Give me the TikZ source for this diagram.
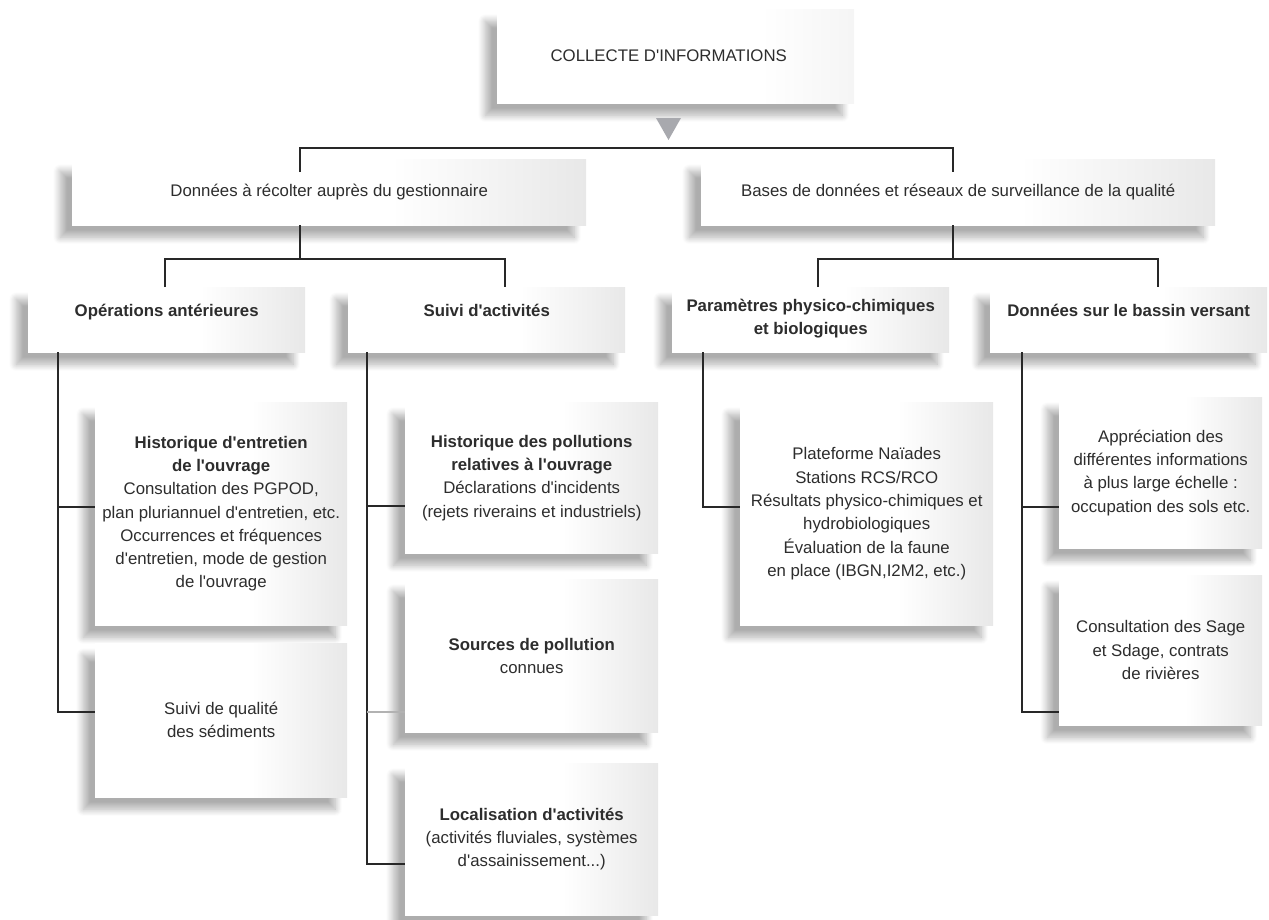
\documentclass[tikz,border=0pt]{standalone}
\usepackage{fontspec}
\setmainfont{Liberation Sans}[Ligatures=TeXOff]
\usetikzlibrary{shadows.blur}
\definecolor{txtgray}{RGB}{45,45,45}
\definecolor{linegray}{RGB}{40,40,40}
\definecolor{arrowgray}{RGB}{168,169,174}
\pgfdeclarehorizontalshading{boxshade}{100bp}{color(0bp)=(white); color(56bp)=(white); color(75bp)=(black!9); color(100bp)=(black!9)}
\pgfdeclarehorizontalshading{paleshade}{100bp}{color(0bp)=(white); color(62bp)=(white); color(75bp)=(black!4); color(100bp)=(black!4)}
\tikzset{
	box/.style={shade, shading=boxshade, anchor=north west, align=center, inner sep=0pt, text=txtgray,
		font=\fontsize{16.8pt}{23.3pt}\selectfont,
		blur shadow={shadow xshift=-12pt, shadow yshift=-12pt, shadow blur radius=7pt, shadow blur steps=10, shadow opacity=32}},
	headbox/.style={box, minimum width=277pt, minimum height=65pt, text height=12pt, text depth=18pt},
	link/.style={draw=linegray, line width=1.2pt},
	linkpale/.style={draw=black!30, line width=1.2pt}
}

\begin{document}
\begin{tikzpicture}[x=1pt, y=-1pt]
		%%%%% START %%%%%
		\useasboundingbox (0,0) rectangle (1269,919);
		
		\node[box, shading=paleshade, minimum width=357pt, minimum height=94pt] (collect) at (497,9) {COLLECTE D'INFORMATIONS\hspace*{14pt}};
		\fill[arrowgray] (656,118) -- (681,118) -- (668.5,140) -- cycle;
		
		\node[box, minimum width=514pt, minimum height=66pt] (gestion) at (72,159) {Données à récolter auprès du gestionnaire};
		\node[box, minimum width=514pt, minimum height=66pt] (bases) at (701,159) {Bases de données et réseaux de surveillance de la qualité};
		
		\node[headbox] (operations) at (28,287) {\textbf{Opérations antérieures}};
		\node[headbox] (suivi) at (348,287) {\textbf{Suivi d'activités}};
		\node[headbox, text height=34pt, text depth=4pt] (parametres) at (672,287) {\textbf{Paramètres physico-chimiques}\\\textbf{et biologiques}};
		\node[headbox] (bassin) at (990,287) {\textbf{Données sur le bassin versant}};
		
		\node[box, minimum width=252pt, minimum height=223pt] (histentretien) at (95,402) {\textbf{Historique d'entretien}\\\textbf{de l'ouvrage}\\Consultation des PGPOD,\\plan pluriannuel d'entretien, etc.\\Occurrences et fréquences\\d'entretien, mode de gestion\\de l'ouvrage};
		\node[box, minimum width=252pt, minimum height=154pt] (qualsed) at (95,643) {Suivi de qualité\\des sédiments};
		
		\node[box, minimum width=253pt, minimum height=151pt] (histpollu) at (405,402) {\textbf{Historique des pollutions}\\\textbf{relatives à l'ouvrage}\\Déclarations d'incidents\\(rejets riverains et industriels)};
		\node[box, minimum width=253pt, minimum height=153pt] (sources) at (405,579) {\textbf{Sources de pollution}\\connues};
		\node[box, minimum width=253pt, minimum height=152pt] (localis) at (405,763) {\textbf{Localisation d'activités}\\(activités fluviales, systèmes\\d'assainissement...)};
		
		\node[box, minimum width=253pt, minimum height=223pt] (naiades) at (740,402) {Plateforme Naïades\\Stations RCS/RCO\\Résultats physico-chimiques et\\hydrobiologiques\\Évaluation de la faune\\en place (IBGN,I2M2, etc.)};
		
		\node[box, minimum width=203pt, minimum height=151pt] (appreciation) at (1059,397) {Appréciation des\\différentes informations\\à plus large échelle :\\occupation des sols etc.};
		\node[box, minimum width=203pt, minimum height=150pt] (sage) at (1059,575) {Consultation des Sage\\et Sdage, contrats\\de rivières};
		
		% top bus
		\coordinate (tl) at (300,148);
		\coordinate (tr) at (953,148);
		\draw[link, shorten <=-13pt, shorten >=-13pt] (tl |- gestion.north) -- (tl) -- (tr) -- (tr |- bases.north);
		
		% second level
		\coordinate (gl) at (165,259);
		\coordinate (gm) at (300,259);
		\coordinate (gr) at (505,259);
		\draw[link] (gm |- gestion.south) -- (gm);
		\draw[link] (gl |- operations.north) -- (gl) -- (gr) -- (gr |- suivi.north);
		
		\coordinate (bl) at (818,259);
		\coordinate (bm) at (953,259);
		\coordinate (br) at (1158,259);
		\draw[link] (bm |- bases.south) -- (bm);
		\draw[link] (bl |- parametres.north) -- (bl) -- (br) -- (br |- bassin.north);
		
		% columns
		\coordinate (ca1) at (58,507);
		\coordinate (ca2) at (58,712);
		\draw[link] (ca1 |- operations.south) -- (ca2) -- (ca2 -| qualsed.west);
		\draw[link] (ca1) -- (ca1 -| histentretien.west);
		
		\coordinate (cb1) at (367,506);
		\coordinate (cb2) at (367,712);
		\coordinate (cb3) at (367,864);
		\draw[link] (cb1 |- suivi.south) -- (cb3) -- (cb3 -| localis.west);
		\draw[link] (cb1) -- (cb1 -| histpollu.west);
		\draw[linkpale] (cb2) -- (cb2 -| sources.west);
		
		\coordinate (cc1) at (703,507);
		\draw[link] (cc1 |- parametres.south) -- (cc1) -- (cc1 -| naiades.west);
		
		\coordinate (cd1) at (1022,507);
		\coordinate (cd2) at (1022,712);
		\draw[link] (cd1 |- bassin.south) -- (cd2) -- (cd2 -| sage.west);
		\draw[link] (cd1) -- (cd1 -| appreciation.west);
		
		%%%%% END %%%%%
\end{tikzpicture}
\end{document}
